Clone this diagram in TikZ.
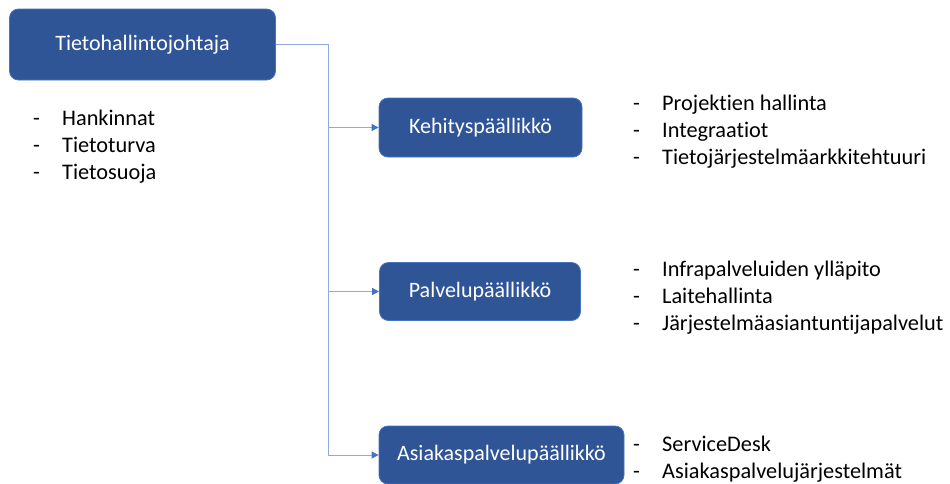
\documentclass[tikz,border=0pt]{standalone}
\usepackage{fontspec}
\setmainfont{Carlito}[Ligatures=NoCommon]
\usetikzlibrary{arrows.meta}

\definecolor{boxblue}{HTML}{2F5597}
\definecolor{boxline}{HTML}{4472C4}
\definecolor{linkblue}{HTML}{8FAADC}

\tikzset{
  role/.style={draw=boxline, fill=boxblue, rounded corners=9pt, text=white,
    line width=0.8pt, font=\fontsize{22}{26}\selectfont},
  link/.style={draw=linkblue, line width=1pt,
    -{Triangle[length=7pt,width=7pt,fill=boxline,color=boxline]}},
  duties/.style={anchor=base west, inner sep=0pt, font=\fontsize{22.3}{27}\selectfont},
}
\newcommand{\dutylist}[2]{\begin{tabular}[t]{@{}p{#1}@{}l@{}}#2\end{tabular}}

\begin{document}
\begin{tikzpicture}[x=1pt,y=-1pt]
\useasboundingbox (0,0) rectangle (950,483);

% managers
\node[role, minimum width=266pt, minimum height=71pt] (cio) at (142.5,44.5) {Tietohallintojohtaja};
\node[role, minimum width=203pt, minimum height=59pt] (kehitys) at (480.5,127.5) {Kehityspäällikkö};
\node[role, minimum width=201pt, minimum height=58pt] (palvelu) at (480,291.5) {Palvelupäällikkö};
\node[role, minimum width=245pt, minimum height=58pt] (asiakas) at (501.5,455) {Asiakaspalvelupäällikkö};

% connectors
\coordinate (bus) at (328,44.5);
\draw[link] (cio.east) -- (bus) |- (kehitys.west);
\draw[link] (bus) |- (palvelu.west);
\draw[link] (bus) |- (asiakas.west);

% duties
\node[duties] (cioduties) at (33,125) {\dutylist{29pt}{-&Hankinnat\\ -&Tietoturva\\ -&Tietosuoja}};
\node[duties] (kehduties) at (633,110) {\dutylist{29pt}{-&Projektien hallinta\\ -&Integraatiot\\ -&Tietojärjestelmäarkkitehtuuri}};
\node[duties] (palduties) at (633,276) {\dutylist{29pt}{-&Infrapalveluiden ylläpito\\ -&Laitehallinta\\ -&Järjestelmäasiantuntijapalvelut}};
\node[duties] (asduties) at (633,451) {\dutylist{29pt}{-&ServiceDesk\\ -&Asiakaspalvelujärjestelmät}};
\end{tikzpicture}
\end{document}
